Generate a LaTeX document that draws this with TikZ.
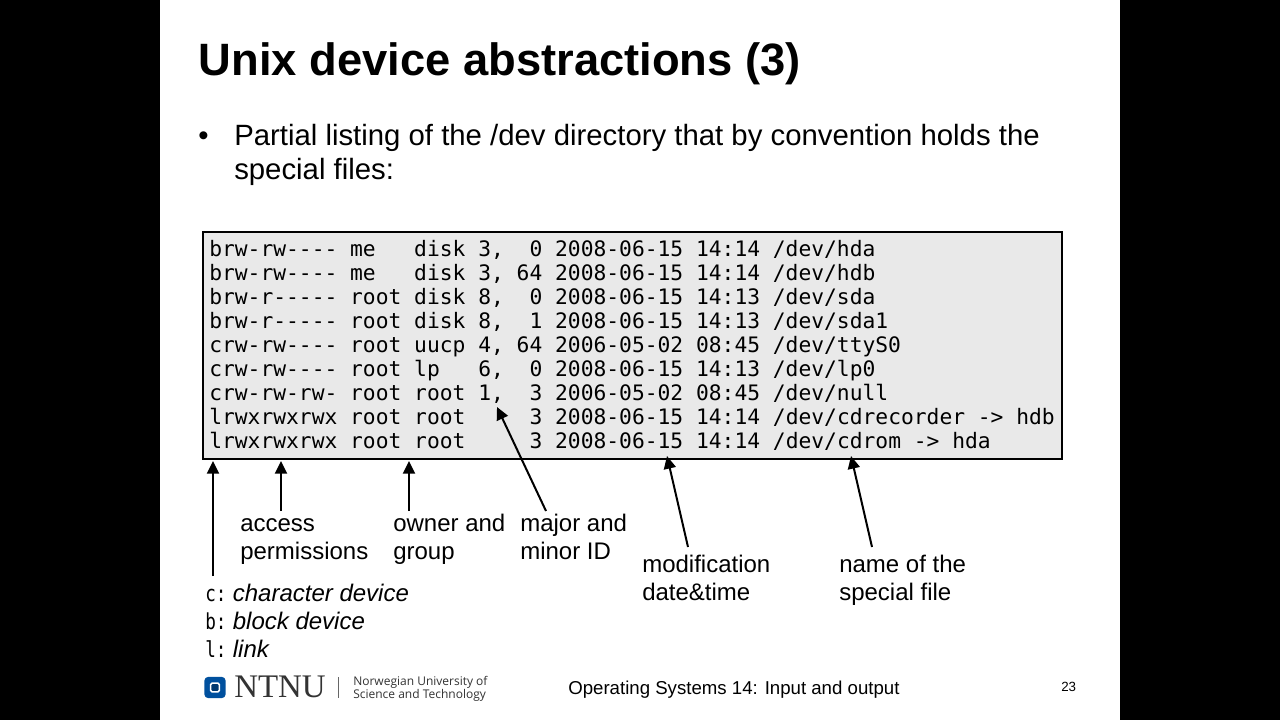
\documentclass[tikz,border=0pt]{standalone}
\usepackage{fontspec}
\setmainfont{Liberation Sans}
\newfontfamily\listfont{DejaVu Sans Mono}
\newfontfamily\keymono[FakeStretch=0.8]{DejaVu Sans Mono}
\newfontfamily\logofont{Liberation Serif}
\newfontfamily\logosans{Open Sans}
\definecolor{boxgray}{HTML}{E9E9E9}
\definecolor{ntnublue}{HTML}{00509E}
\newcommand{\keyfont}{\keymono\fontsize{16.5}{16.5}\selectfont}
\tikzset{
	listline/.style={anchor=base west,inner sep=0pt,font=\listfont\fontsize{15.96}{16}\selectfont},
	caption/.style={anchor=base west,inner sep=0pt,align=left,font=\fontsize{18}{21}\selectfont},
	keyline/.style={anchor=base west,inner sep=0pt,font=\fontsize{18}{21}\selectfont},
	bodyline/.style={anchor=base west,inner sep=0pt,font=\fontsize{22}{22}\selectfont},
	unitext/.style={anchor=base west,inner sep=0pt,text=black!80,font=\logosans\fontsize{9}{9}\selectfont},
	pointer/.style={-{Triangle[width=9pt,length=9.5pt]},line width=1.5pt},
}
\usetikzlibrary{arrows.meta}
\begin{document}
\begin{tikzpicture}[x=0.75pt,y=0.75pt,yscale=-1,xscale=1]
	\useasboundingbox (0,0) rectangle (1280,720);
	\fill[black] (0,0) rectangle (1280,720);
	\fill[white] (160,0) rectangle (1120,720);

	% title and bullet
	\node (title) at (198.5,76) [anchor=base west,inner sep=0pt,font=\bfseries\fontsize{34}{34}\selectfont] {Unix device abstractions (3)};
	\node (bullet) at (198,146) [bodyline] {•};
	\node (introa) at (234,146) [bodyline] {Partial listing of the /dev directory that by convention holds the};
	\node (introb) at (234,180) [bodyline] {special files:};

	% listing
	\node (listbox) at (632.5,345.5) [draw=black,fill=boxgray,line width=0.8pt,inner sep=0pt,minimum width=644.25pt,minimum height=170.25pt] {};
	\node (lsa) at (209,256) [listline] {brw-rw----~me~~~disk~3,~~0~2008-06-15~14:14~/dev/hda};
	\node (lsb) at (209,280) [listline] {brw-rw----~me~~~disk~3,~64~2008-06-15~14:14~/dev/hdb};
	\node (lsc) at (209,304) [listline] {brw-r-----~root~disk~8,~~0~2008-06-15~14:13~/dev/sda};
	\node (lsd) at (209,328) [listline] {brw-r-----~root~disk~8,~~1~2008-06-15~14:13~/dev/sda1};
	\node (lse) at (209,352) [listline] {crw-rw----~root~uucp~4,~64~2006-05-02~08:45~/dev/ttyS0};
	\node (lsf) at (209,376) [listline] {crw-rw----~root~lp~~~6,~~0~2008-06-15~14:13~/dev/lp0};
	\node (lsg) at (209,400) [listline] {crw-rw-rw-~root~root~1,~~3~2006-05-02~08:45~/dev/null};
	\node (lsh) at (209,424) [listline] {lrwxrwxrwx~root~root~~~~~3~2008-06-15~14:14~/dev/cdrecorder~->~hdb};
	\node (lsi) at (209,448) [listline] {lrwxrwxrwx~root~root~~~~~3~2008-06-15~14:14~/dev/cdrom~->~hda};

	% captions
	\node (access) at (240,559) [caption] {access\\permissions};
	\node (owner) at (393,559) [caption] {owner and\\group};
	\node (major) at (520,559) [caption] {major and\\minor ID};
	\node (modif) at (642,600) [caption] {modification\\date\&time};
	\node (name) at (839,600) [caption] {name of the\\special file};
	\node (keyc) at (205,601) [keyline] {{\keyfont c:}\hspace{4.8pt}\textit{character device}};
	\node (keyb) at (205,629) [keyline] {{\keyfont b:}\hspace{4.8pt}\textit{block device}};
	\node (keyl) at (205,657) [keyline] {{\keyfont l:}\hspace{4.8pt}\textit{link}};

	% pointers
	\coordinate (typetail) at (213,576);
	\coordinate (typehead) at (213,461);
	\coordinate (accesstail) at (281,511);
	\coordinate (accesshead) at (281,461);
	\coordinate (ownertail) at (409,511);
	\coordinate (ownerhead) at (409,461);
	\coordinate (majortail) at (546,511);
	\coordinate (majorhead) at (497,407);
	\coordinate (modiftail) at (688,547);
	\coordinate (modifhead) at (667,456);
	\coordinate (nametail) at (872,547);
	\coordinate (namehead) at (851,456);
	\draw[pointer] (typetail) -- (typehead);
	\draw[pointer] (accesstail) -- (accesshead);
	\draw[pointer] (ownertail) -- (ownerhead);
	\draw[pointer] (majortail) -- (majorhead);
	\draw[pointer] (modiftail) -- (modifhead);
	\draw[pointer] (nametail) -- (namehead);

	% footer
	\node (logobox) at (215,687.5) [fill=ntnublue,rounded corners=3pt,minimum size=16pt,inner sep=0pt] {};
	\node (logohole) at (215,687.5) [draw=white,fill=ntnublue!70!black,line width=1.2pt,rounded corners=1pt,minimum size=6.5pt,inner sep=0pt] {};
	\node (ntnu) at (234,697) [anchor=base west,inner sep=0pt,text=black!80,font=\logofont\fontsize{24.7}{24.7}\selectfont] {NTNU};
	\coordinate (bartop) at (338,677);
	\coordinate (barbot) at (338,698);
	\draw[black!60,line width=0.6pt] (bartop) -- (barbot);
	\node (unia) at (353,685) [unitext] {Norwegian University of};
	\node (unib) at (353,698) [unitext] {Science and Technology};
	\node (course) at (568,694) [anchor=base west,inner sep=0pt,font=\fontsize{13.98}{14}\selectfont] {Operating Systems 14: Input and output};
	\node (page) at (1061,691) [anchor=base west,inner sep=0pt,font=\fontsize{10}{10}\selectfont] {23};
\end{tikzpicture}
\end{document}
